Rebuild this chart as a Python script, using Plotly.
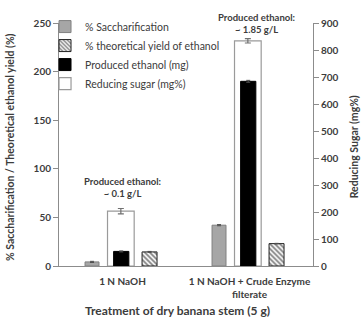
import plotly.graph_objects as go

categories = ["1 N NaOH", "1 N NaOH + Crude Enzyme<br>filterate"]
saccharification = [4.2, 42.0]
saccharification_err = [0.6, 0.6]
theoretical_yield = [14.5, 23.0]
theoretical_yield_err = [0.5, 0.3]
produced_ethanol = [15.0, 190.0]
produced_ethanol_err = [0.5, 1.0]
reducing_sugar = [203.0, 834.0]
reducing_sugar_err = [10.0, 8.0]
ethanol_labels = ["Produced ethanol:<br>~ 0.1 g/L", "Produced ethanol:<br>~ 1.85 g/L"]

FONT = "Lato"
TXT = "#3c3c3c"
AX = "#8c8c8c"

fig = go.Figure()

# Reducing sugar on primary (drawn beneath), shown on the right side
fig.add_trace(go.Bar(
    x=categories, y=reducing_sugar, name="Reducing sugar (mg%)",
    offset=-0.118, width=0.21, yaxis="y",
    marker=dict(color="white", line=dict(color="#9a9a9a", width=1.2)),
    error_y=dict(type="data", array=reducing_sugar_err, color="#707070", thickness=1.2, width=3),
    legendrank=4,
))
fig.add_trace(go.Bar(
    x=categories, y=saccharification, name="% Saccharification",
    offset=-0.295, width=0.11, yaxis="y2",
    marker=dict(color="#a6a6a6", line=dict(color="#808080", width=1)),
    error_y=dict(type="data", array=saccharification_err, color="#505050", thickness=1, width=2),
    legendrank=1,
))
fig.add_trace(go.Bar(
    x=categories, y=theoretical_yield, name="% theoretical yield of ethanol",
    offset=0.154, width=0.118, yaxis="y2",
    marker=dict(color="white", line=dict(color="#222222", width=1),
                pattern=dict(shape="\\", fgcolor="#000000", bgcolor="white", size=3.5, solidity=0.5)),
    error_y=dict(type="data", array=theoretical_yield_err, color="#505050", thickness=1, width=2),
    legendrank=2,
))
fig.add_trace(go.Bar(
    x=categories, y=produced_ethanol, name="Produced ethanol (mg)",
    offset=-0.07, width=0.12, yaxis="y2",
    marker=dict(color="black", line=dict(color="black", width=1)),
    error_y=dict(type="data", array=produced_ethanol_err, color="#505050", thickness=1, width=2),
    legendrank=3,
))

for i, (cat, lab) in enumerate(zip(categories, ethanol_labels)):
    fig.add_annotation(
        x=cat, y=0.324 if i == 0 else 1.0, xref="x", yref="paper",
        xshift=0 if i == 0 else 7,
        text="<b>" + lab + "</b>", showarrow=False,
        font=dict(family=FONT, size=9.5, color=TXT), align="center",
        yanchor="middle",
    )

# axis titles
fig.add_annotation(
    x=0.5, y=-0.185, xref="paper", yref="paper", xshift=-9,
    text="<b>Treatment of dry banana stem (5 g)</b>", showarrow=False,
    font=dict(family=FONT, size=12, color=TXT), yanchor="middle",
)
fig.add_annotation(
    x=-0.193, y=0.49, xref="paper", yref="paper", textangle=-90,
    text="<b>% Saccharification / Theoretical ethanol yield (%)</b>", showarrow=False,
    font=dict(family=FONT, size=10.5, color=TXT), xanchor="center", yanchor="middle",
)
fig.add_annotation(
    x=1.163, y=0.49, xref="paper", yref="paper", textangle=-90,
    text="<b>Reducing Sugar (mg%)</b>", showarrow=False,
    font=dict(family=FONT, size=10.5, color=TXT), xanchor="center", yanchor="middle",
)

fig.update_layout(
    width=362, height=322,
    margin=dict(l=59, r=49, t=15, b=56),
    paper_bgcolor="white", plot_bgcolor="white",
    barmode="overlay",
    font=dict(family=FONT, color=TXT),
    showlegend=True,
    legend=dict(x=-0.055, y=1.045, xanchor="left", yanchor="top",
                font=dict(family=FONT, size=10.5, color=TXT),
                bgcolor="rgba(0,0,0,0)", tracegroupgap=0, itemwidth=30),
    xaxis=dict(
        type="category", categoryorder="array", categoryarray=categories,
        range=[-0.5, 1.5], automargin=False,
        showline=True, linecolor=AX, linewidth=1, ticks="",
        ticklabelstandoff=6,
        tickfont=dict(family=FONT, size=10, color=TXT, weight="bold"),
    ),
    yaxis=dict(
        side="right", range=[0, 900], tickvals=list(range(0, 901, 100)), automargin=False,
        showline=True, linecolor=AX, linewidth=1, ticks="outside", ticklen=5, tickcolor=AX,
        showgrid=False, zeroline=False,
        tickfont=dict(family=FONT, size=10, color=TXT, weight="bold"),
    ),
    yaxis2=dict(
        overlaying="y", side="left", range=[0, 250], tickvals=list(range(0, 251, 50)), automargin=False,
        showline=True, linecolor=AX, linewidth=1, ticks="outside", ticklen=5, tickcolor=AX,
        showgrid=False, zeroline=False,
        tickfont=dict(family=FONT, size=10, color=TXT, weight="bold"),
    ),
)

fig.write_html("out.html")
